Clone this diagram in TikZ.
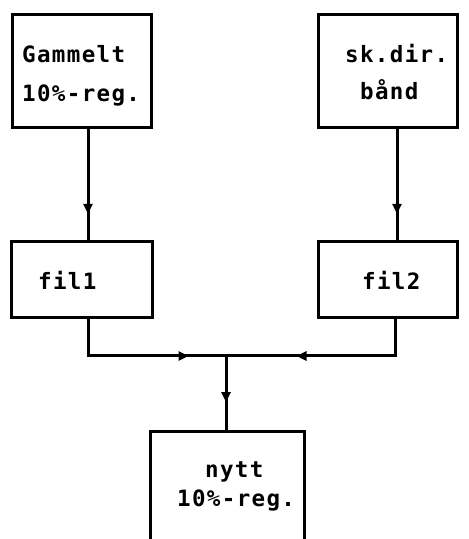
\documentclass[tikz,border=0pt]{standalone}
\usepackage{fontspec}
\newfontfamily\boxfont[LetterSpace=6]{DejaVu Sans Mono}
\usetikzlibrary{arrows.meta,decorations.markings}
\begin{document}
\begin{tikzpicture}[x=1pt,y=1pt,
  flowbox/.style={draw,line width=3pt,minimum width=#1,inner sep=0pt},
  lbl/.style={anchor=base west,inner sep=0pt,font=\boxfont\bfseries\fontsize{22.5}{26}\selectfont},
  wire/.style={line width=3pt},
  midarrow/.style={postaction={decorate},decoration={markings,
     mark=at position #1 with {\arrow{Triangle[length=10pt,width=9pt]}}}}
]
\useasboundingbox (0,0) rectangle (469,539);

% source boxes
\node[flowbox=139pt,minimum height=113pt] (old) at (81.5,467.5) {};
\node[flowbox=139pt,minimum height=113pt] (dir) at (387.5,467.5) {};
% file boxes
\node[flowbox=141pt,minimum height=76pt] (fila) at (81.5,259) {};
\node[flowbox=139pt,minimum height=76pt] (filb) at (387.5,259) {};
% result box, running off the bottom edge
\node[flowbox=154pt,minimum height=113pt] (new) at (227,50.5) {};

% texts
\node[lbl] (t1) at (22,476) {Gammelt};
\node[lbl] (t2) at (22,437) {10\%-reg.};
\node[lbl] (t3) at (345,476) {sk.dir.};
\node[lbl] (t4) at (360,439) {bånd};
\node[lbl] (t5) at (38,249) {fil1};
\node[lbl] (t6) at (362,249) {fil2};
\node[lbl] (t7) at (205,61) {nytt};
\node[lbl] (t8) at (177,32) {10\%-reg.};

% connection points
\coordinate (oa) at (88,0);
\coordinate (ob) at (397,0);
\coordinate (ma) at (88,0);
\coordinate (mb) at (395,0);
\coordinate (busa) at (88,183);
\coordinate (busb) at (395,183);
\coordinate (join) at (226,183);

% feeds into the file boxes
\draw[wire,midarrow=0.76] (old.south -| oa) -- (fila.north -| oa);
\draw[wire,midarrow=0.76] (dir.south -| ob) -- (filb.north -| ob);
% merge of both files
\draw[wire,midarrow=137pt] (fila.south -| ma) -- (busa) -- (join);
\draw[wire,midarrow=135pt] (filb.south -| mb) -- (busb) -- (join);
\draw[wire,midarrow=0.62] (join) -- (new.north -| join);
\end{tikzpicture}
\end{document}
